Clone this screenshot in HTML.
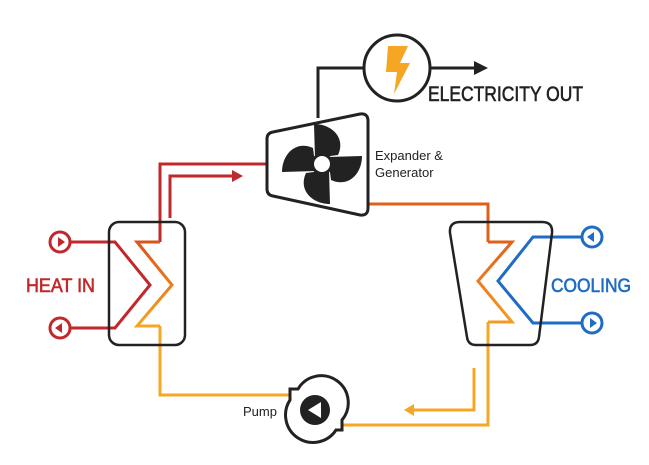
<!DOCTYPE html>
<html><head><style>html,body{margin:0;padding:0;background:#fff;}svg{display:block}</style></head>
<body>
<svg width="649" height="465" viewBox="0 0 649 465" xmlns="http://www.w3.org/2000/svg" font-family="Liberation Sans, sans-serif">
<defs>
<linearGradient id="lg" x1="0" y1="0" x2="0" y2="1"><stop offset="0" stop-color="#d9541a"/><stop offset="1" stop-color="#f5a623"/></linearGradient>
<linearGradient id="rg" x1="0" y1="0" x2="0" y2="1"><stop offset="0" stop-color="#e0601a"/><stop offset="1" stop-color="#f39c23"/></linearGradient>
</defs>
<g fill="none" stroke-width="3">
<polyline points="160,242 160,164 268,164" stroke="#c0282b"/>
<polyline points="170,218 170,176 234,176" stroke="#c0282b"/>
<polygon points="232,170 243,176 232,182" fill="#c0282b" stroke="none"/>
<polyline points="160,242 137,242 172,285 137,326 160,326" stroke="url(#lg)"/>
<polyline points="160,326 160,395 290,395" stroke="#f5a623"/>
<polyline points="71,242 115,242 150,285 115,328 71,328" stroke="#c0282b"/>
<circle cx="60" cy="242" r="10" stroke="#c0282b"/>
<circle cx="60" cy="328" r="10" stroke="#c0282b"/>
<polyline points="368,204 488,204 488,242" stroke="#e0601a"/>
<polyline points="488,242 512,242 478,281 512,322 488,322" stroke="url(#rg)"/>
<polyline points="488,322 488,425 342,425" stroke="#f5a623"/>
<polyline points="474,368 474,410 412,410" stroke="#f5a623"/>
<polygon points="414,404 404,410 414,416" fill="#f5a623" stroke="none"/>
<polyline points="581,237 533,237 498,281 533,323 581,323" stroke="#1f6cc4"/>
<circle cx="592" cy="237" r="10" stroke="#1f6cc4"/>
<circle cx="592" cy="323" r="10" stroke="#1f6cc4"/>
<polyline points="318,118 318,68 364,68" stroke="#222"/>
<line x1="431" y1="68" x2="476" y2="68" stroke="#222"/>
</g>
<polygon points="474,61 488,68 474,75" fill="#222"/>
<polygon points="58,237 65,242 58,247" fill="#c0282b"/>
<polygon points="62,323 55,328 62,333" fill="#c0282b"/>
<polygon points="594,232 587,237 594,242" fill="#1f6cc4"/>
<polygon points="590,318 597,323 590,328" fill="#1f6cc4"/>
<rect x="109" y="222" width="76" height="123" rx="10" fill="none" stroke="#222" stroke-width="2.5"/>
<path d="M460,222 L542,222 Q553,222 552,233 L539,337 Q538,345 530,345 L476,345 Q468,345 467,337 L450,233 Q449,222 460,222 Z" fill="none" stroke="#222" stroke-width="2.5"/>
<circle cx="397" cy="68" r="33" fill="#fff" stroke="#222" stroke-width="3"/>
<polygon points="388,46 408,46 400,63 410,63 394,94 397,72 386,72" fill="#f5a623"/>
<path d="M273,132 L360,114 Q368,113 368,121 L368,208 Q368,216 360,215 L273,196 Q267,195 267,189 L267,139 Q267,133 273,132 Z" fill="#fff" stroke="#222" stroke-width="3"/>
<g fill="#222" transform="translate(322,164)">
<path d="M-7,-6 L-8,-40 C10,-40 24,-26 16,-9 Z"/>
<path d="M-7,-6 L-8,-40 C10,-40 24,-26 16,-9 Z" transform="rotate(90)"/>
<path d="M-7,-6 L-8,-40 C10,-40 24,-26 16,-9 Z" transform="rotate(180)"/>
<path d="M-7,-6 L-8,-40 C10,-40 24,-26 16,-9 Z" transform="rotate(270)"/>
<circle r="11" fill="#222"/>
<circle r="8" fill="#fff"/>
</g>
<path d="M290,389 L298,389 A27,27 0 1 1 342,420 L342,430 L336,430 A27,27 0 0 1 290,400 Z" fill="#fff" stroke="#222" stroke-width="3"/>
<circle cx="315" cy="410" r="15" fill="#222"/>
<polygon points="321,402 321,418 308,410" fill="#fff"/>
<g stroke-width="0.6">
<text x="428" y="101" font-size="21" fill="#222" stroke="#222" textLength="155" lengthAdjust="spacingAndGlyphs">ELECTRICITY OUT</text>
<text x="26" y="292" font-size="19" fill="#c0282b" stroke="#c0282b" textLength="69" lengthAdjust="spacingAndGlyphs">HEAT IN</text>
<text x="551" y="292" font-size="19" fill="#1f6cc4" stroke="#1f6cc4" textLength="80" lengthAdjust="spacingAndGlyphs">COOLING</text>
</g>
<text x="375" y="160" font-size="13" fill="#222">Expander &amp;</text>
<text x="375" y="177" font-size="13" fill="#222">Generator</text>
<text x="243" y="416" font-size="13" fill="#222">Pump</text>
</svg>
</body></html>
